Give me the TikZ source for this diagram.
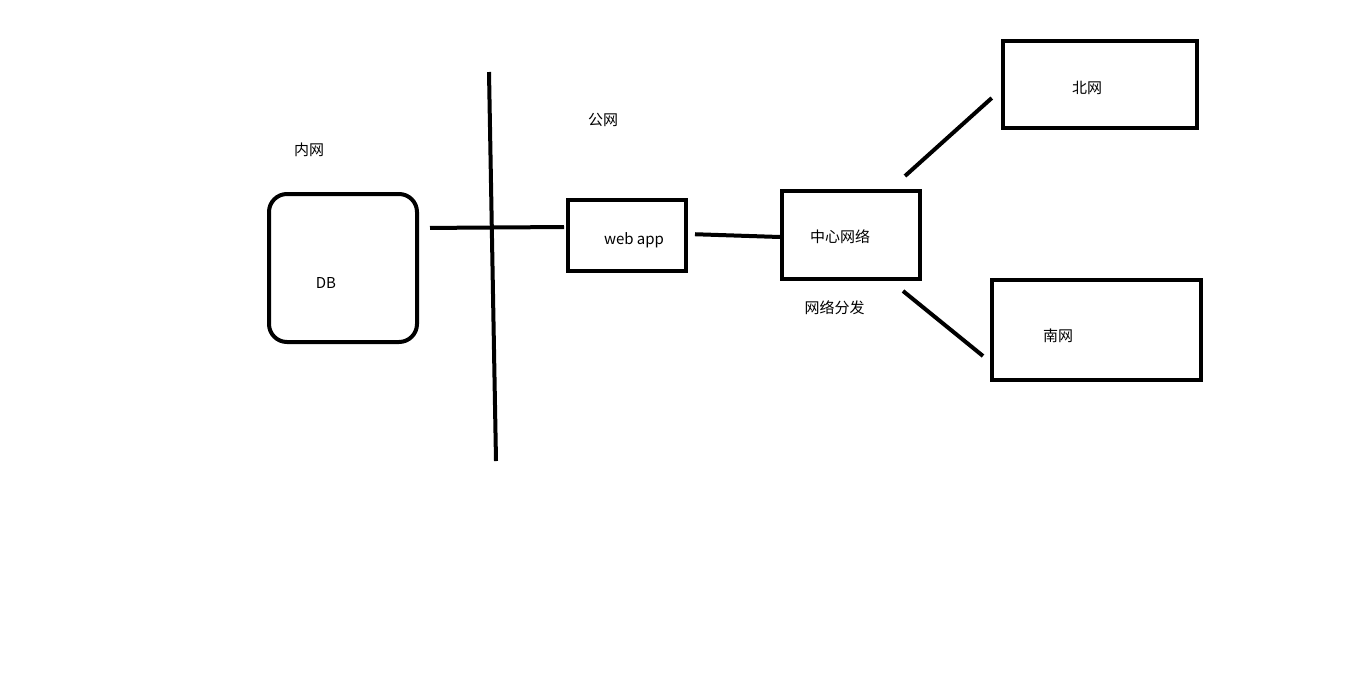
\documentclass[tikz,border=0pt]{standalone}
\usepackage{fontspec}
\setmainfont{Noto Sans CJK SC}
\usepackage{tikz}
\usetikzlibrary{positioning}

\begin{document}
\begin{tikzpicture}[
      x=1pt, y=-1pt,
      every node/.style={
        inner sep=0pt,
        font=\fontsize{15pt}{17pt}\selectfont
      },
      box/.style={
        draw,
        line width=4pt,
        fill=white
      },
      link/.style={
        line width=4pt
      },
      tag/.style={}
      ]

      \useasboundingbox[fill=white] (0,0) rectangle (1354,681);

      \node[box, rounded corners=18pt, minimum width=148pt, minimum height=148pt,
        label={[xshift=-17pt,yshift=-15pt]center:DB}] (db) at (343,268) {};
      \node[box, minimum width=118pt, minimum height=71pt,
        label={[xshift=7pt,yshift=-4.5pt]center:web app}] (web) at (627,235.5) {};
      \node[box, minimum width=138pt, minimum height=88pt,
        label={[xshift=-11pt,yshift=-2pt]center:中心网络}] (hub) at (851,235) {};
      \node[box, minimum width=193.5pt, minimum height=87pt,
        label={[xshift=-13pt,yshift=-3.5pt]center:北网}] (north) at (1100,84.5) {};
      \node[box, minimum width=209pt, minimum height=100pt,
        label={[xshift=-38.5pt,yshift=-6pt]center:南网}] (south) at (1096.5,330) {};

      \node[tag] (inner) at (309,150) {内网};
      \node[tag] (public) at (603,120) {公网};
      \node[tag] (dist) at (834.5,308) {网络分发};

      \coordinate (wallTop) at (489,72);
      \coordinate (wallBottom) at (496,461);
      \draw[link] (wallTop) -- (wallBottom);

      \draw[link, shorten <=11pt, shorten >=2pt]
        ([yshift=40pt]db.east) -- ([yshift=8.5pt]web.west);
      \draw[link, shorten <=7pt]
        ([yshift=1.5pt]web.east) -- ([yshift=-2pt]hub.west);
      \draw[link]
        ([shift={(-17pt,13pt)}]hub.north east) -- ([shift={(-9.5pt,-13.5pt)}]north.west);
      \draw[link]
        ([shift={(-19pt,-10pt)}]hub.south east) -- ([shift={(-7pt,-26pt)}]south.west);
    \end{tikzpicture}
\end{document}
